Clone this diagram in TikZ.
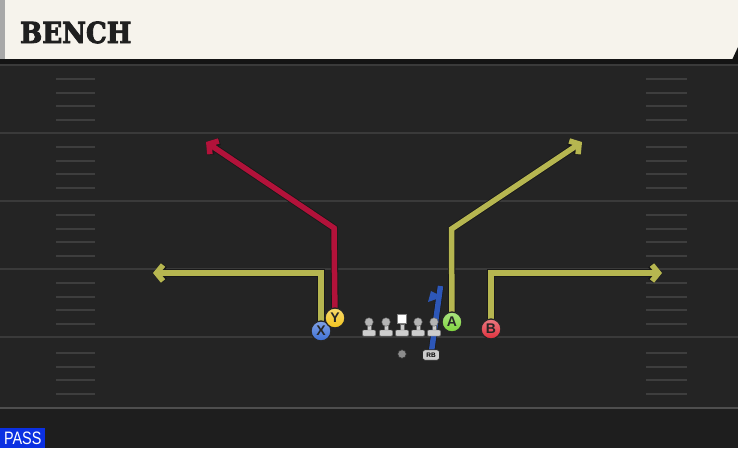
\documentclass[tikz,border=0pt]{standalone}
\usepackage{fontspec}
\setmainfont{DejaVu Sans}
\newfontfamily\slab{DejaVu Serif}[BoldFeatures={FakeBold=3}, FakeStretch=0.9]
\newfontfamily\lsans{Liberation Sans}
\usetikzlibrary{arrows.meta}
\definecolor{hdr}{HTML}{F6F3EC}
\definecolor{hdrstrip}{HTML}{A8A8A8}
\definecolor{band}{HTML}{141414}
\definecolor{fieldc}{HTML}{242424}
\definecolor{fieldlow}{HTML}{1E1E1E}
\definecolor{yardc}{HTML}{3A3A3A}
\definecolor{hashc}{HTML}{3E3E3E}
\definecolor{olive}{HTML}{B6B650}
\definecolor{crimson}{HTML}{B2123A}
\definecolor{rbblue}{HTML}{2D57B8}
\definecolor{passblue}{HTML}{0B30E2}
\definecolor{pX}{HTML}{3C6FD6}
\definecolor{pY}{HTML}{F2C41C}
\definecolor{pA}{HTML}{7ED43C}
\definecolor{pB}{HTML}{E0303C}
\definecolor{oline}{HTML}{CDCDCD}
\definecolor{ohead}{HTML}{B4B4B4}
\pgfdeclarelayer{bg}
\pgfdeclarelayer{routes}
\pgfsetlayers{bg,routes,main}
\tikzset{
  route/.style={draw=#1, line width=5.5pt, line join=miter, line cap=butt,
    preaction={draw=black!90, line width=7.2pt},
    -{Straight Barb[length=6.5pt,width=16pt]}},
  plain route/.style={draw=#1, line width=5.5pt, line join=miter, line cap=butt,
    preaction={draw=black!90, line width=6.8pt}},
  player/.style={circle, minimum size=20pt, inner sep=0pt, draw=black!85,
    line width=1.3pt, top color=#1!65!white, bottom color=#1,
    font=\lsans\bfseries\fontsize{14}{14}\selectfont, text=black!85},
  ohead/.style={circle, fill=ohead, draw=black!60, line width=0.4pt, minimum size=8.5pt, inner sep=0pt},
  yardline/.style={draw=yardc, line width=2.2pt},
  hashmark/.style={draw=hashc, line width=2pt},
  lineman/.pic={
    \fill[oline, draw=black!60, line width=0.4pt] (-2.2,2) rectangle (2.2,9);
    \fill[oline, draw=black!60, line width=0.4pt, rounded corners=1pt] (-6.5,8) rectangle (6.5,14);
  }
}
\begin{document}
\begin{tikzpicture}[x=1pt,y=-1pt]
\useasboundingbox (0,0) rectangle (738,448);
\begin{pgfonlayer}{bg}
  % field
  \fill[fieldc] (0,60) rectangle (738,448);
  \fill[fieldlow] (0,408) rectangle (738,448);
  % yard lines
  \foreach \yy in {65,133,201,269,337}
    \draw[yardline] (0,\yy) -- (738,\yy);
  \draw[draw=yardc!90!white, line width=1.4pt] (0,408) -- (738,408);
  % hash marks
  \foreach \base in {65,133,201,269}
    \foreach \k in {1,2,3,4} {
      \draw[hashmark] (56,\base+13.6*\k+0.5) -- (95,\base+13.6*\k+0.5);
      \draw[hashmark] (646,\base+13.6*\k+0.5) -- (687,\base+13.6*\k+0.5);
    }
  \foreach \yy in {353,367,380,394} {
    \draw[hashmark] (56,\yy) -- (95,\yy);
    \draw[hashmark] (646,\yy) -- (687,\yy);
  }
  % header
  \fill[band] (0,58) rectangle (738,64);
  \fill[hdr] (0,0) rectangle (738,59);
  \fill[band] (738,47) -- (738,60) -- (732,60) -- cycle;
  \fill[hdrstrip] (0,0) rectangle (5,59);
\end{pgfonlayer}

\node[anchor=base west, inner sep=0pt, font=\slab\bfseries\fontsize{29}{29}\selectfont, text=black!88] (title) at (20,43) {BENCH};

% players
\node[player=pX] (X) at (321,331) {X};
\node[player=pY] (Y) at (335,318) {Y};
\node[player=pA] (A) at (452,322) {A};
\node[player=pB] (B) at (491,329) {B};

% linemen
\pic at (369,322) {lineman};
\node[ohead] (LT) at (369,322) {};
\pic at (386,322) {lineman};
\node[ohead] (LG) at (386,322) {};
\pic at (402,322) {lineman};
\node[rectangle, fill=white, draw=black!50, line width=0.4pt, minimum size=9pt, inner sep=0pt] (C) at (402,318.5) {};
\pic at (418,322) {lineman};
\node[ohead] (RG) at (418,322) {};
\pic at (434,322) {lineman};
\node[ohead] (RT) at (434,322) {};

% QB and RB
\node[circle, fill=black!45, draw=black!80, line width=0.6pt, minimum size=8.5pt, inner sep=0pt] (QB) at (402,354) {};
\node[rectangle, rounded corners=2.5pt, fill=oline, draw=black!85, line width=0.8pt, minimum width=17pt, minimum height=10.5pt, inner sep=0pt, font=\lsans\bfseries\fontsize{6.5}{6.5}\selectfont, text=black] (RB) at (431,355) {RB};

% route coordinates
\coordinate (xe) at (153,273);
\coordinate (yc) at (334,228);
\coordinate (ye) at (206,142);
\coordinate (ac) at (451.5,229);
\coordinate (ae) at (582,142);
\coordinate (be) at (662,273);
\coordinate (r1) at (436.5,299);
\coordinate (r2) at (428,302);
\coordinate (r3) at (431,291);
\coordinate (r4) at (440.5,286);

\begin{pgfonlayer}{routes}
  \draw[route=olive] (X.center) |- (xe);
  \draw[route=crimson] (Y.center) -- (yc) -- (ye);
  \draw[route=olive] (A.center) -- (ac) -- (ae);
  \draw[route=olive] (B.center) |- (be);
  \draw[plain route=rbblue] (RB.center) -- (r4);
  \fill[rbblue] (r1) -- (r2) -- (r3) -- (437,294) -- cycle;
\end{pgfonlayer}

% PASS label
\node[anchor=south west, fill=passblue, minimum width=45pt, minimum height=20pt, inner sep=0pt,
  font=\lsans\fontsize{18}{18}\selectfont, text=white] (pass) at (0,448) {\scalebox{0.8}[1]{PASS}};
\end{tikzpicture}
\end{document}
